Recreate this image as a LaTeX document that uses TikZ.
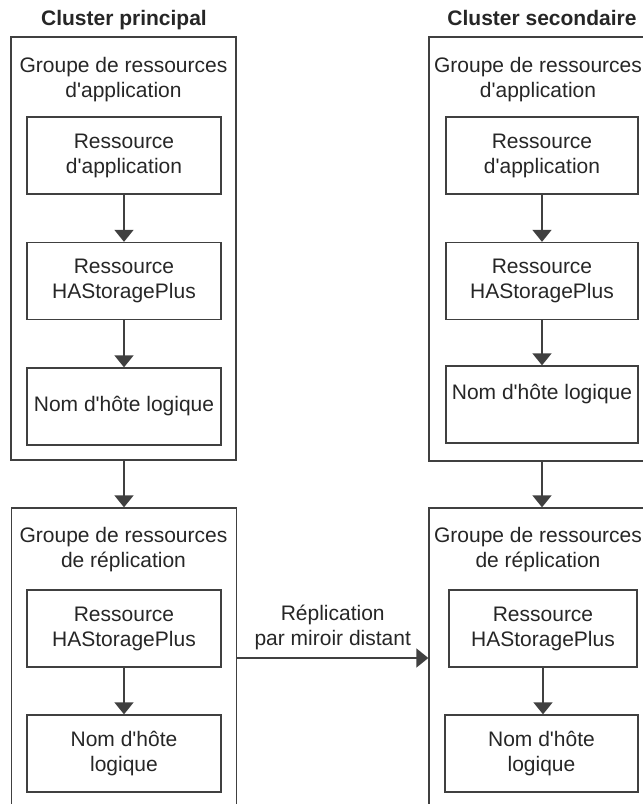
\documentclass[tikz,border=0pt]{standalone}
\usepackage{fontspec}
\setmainfont{Liberation Sans}
\usetikzlibrary{arrows.meta}

\newcommand{\ap}{\textquotesingle}

\tikzset{
	boite/.style={draw=black!75, line width=1.3pt, minimum width=194pt, minimum height=77pt, inner sep=0pt, align=center},
	groupe/.style={draw=black!75, line width=1.3pt, inner sep=0pt, minimum width=225pt},
	fleche/.style={draw=black!75, line width=1.3pt, -{Triangle[width=19pt,length=12pt]}},
	titre/.style={font=\fontsize{21}{25}\selectfont\bfseries, anchor=base},
	etiquette/.style={align=center, inner sep=0pt}
}

\begin{document}
\begin{tikzpicture}[x=1pt, y=-1pt, font=\fontsize{21}{25}\selectfont, text=black!85]
	\useasboundingbox (0, 0) rectangle (643, 804);
	\clip (0, 0) rectangle (643, 804);
	% cluster principal
	\node [titre] (tp) at (124, 25) {Cluster principal};
	\node [groupe, minimum height=423pt] (gpa) at (123.5, 248.5) {};
	\node [etiquette] (lpa) at (123.5, 80) {Groupe de ressources\\d\ap application};
	\node [boite] (rpa) at (124, 155.5) {Ressource\\d\ap application};
	\node [boite] (hpa) at (124, 281) {Ressource\\HAStoragePlus};
	\node [boite] (npa) at (124, 406.5) {Nom d\ap hôte logique};
	\draw [fleche] (rpa) -- (hpa);
	\draw [fleche] (hpa) -- (npa);
	\node [groupe, minimum height=332pt] (gpr) at (124, 674) {};
	\node [etiquette] (lpr) at (123.5, 550) {Groupe de ressources\\de réplication};
	\node [boite] (hpr) at (124, 628.5) {Ressource\\HAStoragePlus};
	\node [boite] (npr) at (124, 753.5) {Nom d\ap hôte\\logique};
	\draw [fleche] (hpr) -- (npr);
	\draw [fleche] (npa.south |- gpa.south) -- (npa.south |- gpr.north);
	% cluster secondaire
	\node [titre] (ts) at (542, 25) {Cluster secondaire};
	\node [groupe, minimum width=231pt, minimum height=424pt] (gsa) at (544.5, 249) {};
	\node [etiquette] (lsa) at (538, 80) {Groupe de ressources\\d\ap application};
	\node [boite, minimum width=192pt] (rsa) at (542, 155.5) {Ressource\\d\ap application};
	\node [boite, minimum width=192pt] (hsa) at (542, 281) {Ressource\\HAStoragePlus};
	\node [boite, minimum width=192pt] (nsa) at (542, 404.5) {Nom d\ap hôte logique\\\mbox{}};
	\draw [fleche] (rsa) -- (hsa);
	\draw [fleche] (hsa) -- (nsa);
	\node [groupe, minimum width=231pt, minimum height=332pt] (gsr) at (544.5, 674) {};
	\node [etiquette] (lsr) at (538, 550) {Groupe de ressources\\de réplication};
	\node [boite, minimum width=188pt] (hsr) at (543, 628.5) {Ressource\\HAStoragePlus};
	\node [boite, minimum width=193pt] (nsr) at (541.5, 753.5) {Nom d\ap hôte\\logique};
	\draw [fleche] (hsr) -- (hsr |- nsr.north);
	\draw [fleche] (nsa.south |- gsa.south) -- (nsa.south |- gsr.north);
	% replication
	\coordinate (rep) at (0, 658);
	\draw [fleche] (gpr.east |- rep) -- (gsr.west |- rep)
		node [etiquette, midway, above=8pt] (lrep) {Réplication\\par miroir distant};
\end{tikzpicture}
\end{document}
